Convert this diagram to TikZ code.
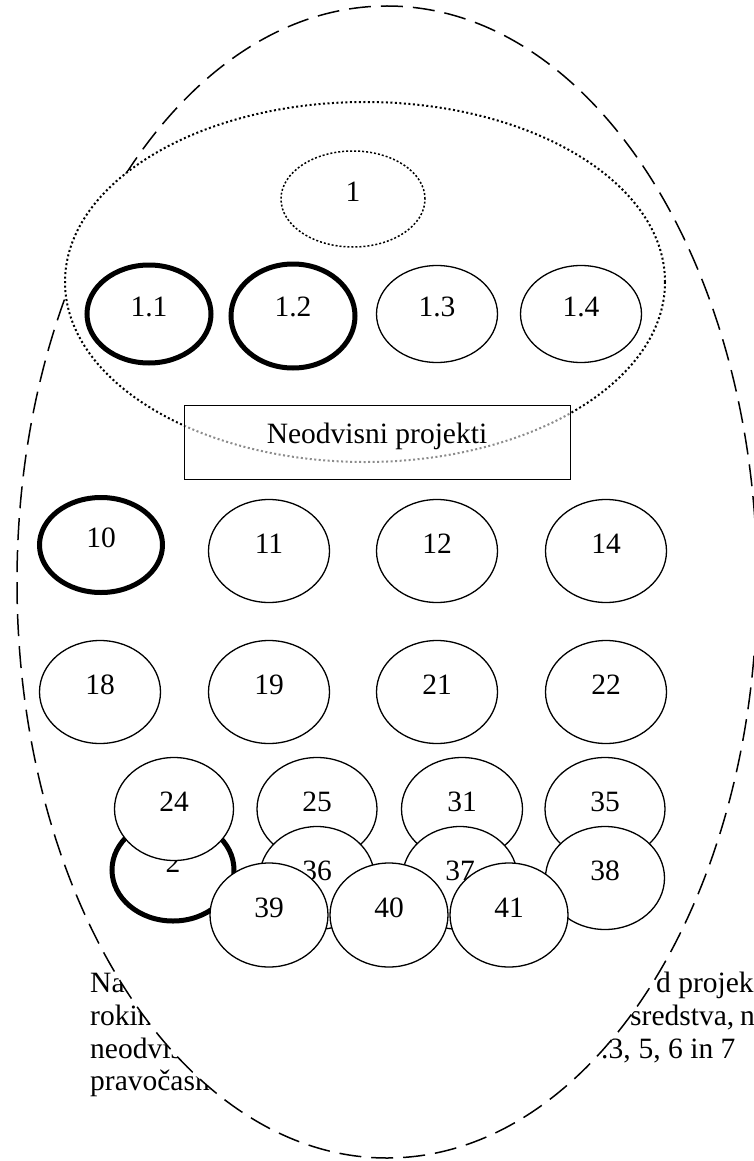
\documentclass[tikz,border=0pt]{standalone}
\usepackage{fontspec}
\setmainfont{Liberation Serif}
\usetikzlibrary{shapes.geometric}

\begin{document}
\begin{tikzpicture}[x=1pt,y=-1pt,font=\fontsize{29.5}{35}\selectfont,
  proj/.style={ellipse,draw,fill=white,line width=1.3pt,inner sep=0pt,
    minimum width=121pt,minimum height=103pt,text height=20pt,text depth=16pt},
  krepek/.style={proj,line width=5pt},
  vrstica/.style={anchor=base west,inner sep=0pt}]
\useasboundingbox (0,0) rectangle (754,1161);
\node[vrstica] (l1) at (90,992) {Na};
\node[vrstica] (l2) at (90,1025) {rokin};
\node[vrstica] (l3) at (90,1058) {neodvis};
\node[vrstica] (l4) at (90,1090) {pravočasn};
\node[vrstica] (d1) at (656,992) {d projek};
\node[vrstica] (d2) at (630,1025) {sredstva,\hspace{6pt}n};
\node[vrstica] (d3) at (601,1058) {.3,\hspace{8pt}5, 6 in 7};
\node[ellipse,draw,fill=white,line width=1.5pt,dash pattern=on 22pt off 10pt,
  minimum width=740pt,minimum height=1152pt,inner sep=0pt] (vsi) at (387,582) {};
\node[ellipse,draw,fill=white,line width=2pt,dash pattern=on 2pt off 2.5pt,
  minimum width=600pt,minimum height=360pt,inner sep=0pt] (skupina) at (365,282) {};
\node[proj,line width=1.5pt,dash pattern=on 2pt off 2pt,minimum width=144pt,
  minimum height=96pt] (p1) at (353,199) {1};
\node[draw,line width=1pt,fill=white,fill opacity=0.55,text opacity=1,
  minimum width=386pt,minimum height=74pt,text height=20pt,text depth=18pt]
  (naslov) at (377,442) {Neodvisni projekti};
\node[krepek,minimum width=124pt,minimum height=98pt] (p11) at (149,314) {1.1};
\node[krepek,minimum width=124pt,minimum height=104pt,text depth=19pt] (p12) at (293,316) {1.2};
\node[proj,minimum height=97pt] (p13) at (437,314) {1.3};
\node[proj,minimum height=97pt] (p14) at (581,314) {1.4};
\node[krepek,minimum width=123pt,minimum height=95pt] (p10) at (101,545) {10};
\node[proj] (p11b) at (269,551) {11};
\node[proj] (p12b) at (437,551) {12};
\node[proj] (p14b) at (606,551) {14};
\node[proj] (p18) at (100,692) {18};
\node[proj] (p19) at (269,692) {19};
\node[proj] (p21) at (437,692) {21};
\node[proj] (p22) at (606,692) {22};
\node[krepek,minimum width=122pt,minimum height=102pt] (p2) at (173,870) {2};
\node[proj,minimum width=119pt] (p24) at (174,809) {24};
\node[proj,minimum width=120pt] (p25) at (317,809) {25};
\node[proj,minimum width=121pt] (p31) at (462,809) {31};
\node[proj,minimum width=120pt] (p35) at (605,809) {35};
\node[proj,minimum width=115pt] (p36) at (317,878) {36};
\node[proj,minimum width=115pt] (p37) at (460,878) {37};
\node[proj,minimum width=119pt] (p38) at (605,878) {38};
\node[proj,minimum width=118pt,minimum height=104pt] (p39) at (269,915) {39};
\node[proj,minimum width=118pt,minimum height=104pt] (p40) at (389,915) {40};
\node[proj,minimum width=118pt,minimum height=104pt] (p41) at (509,915) {41};
\end{tikzpicture}
\end{document}
